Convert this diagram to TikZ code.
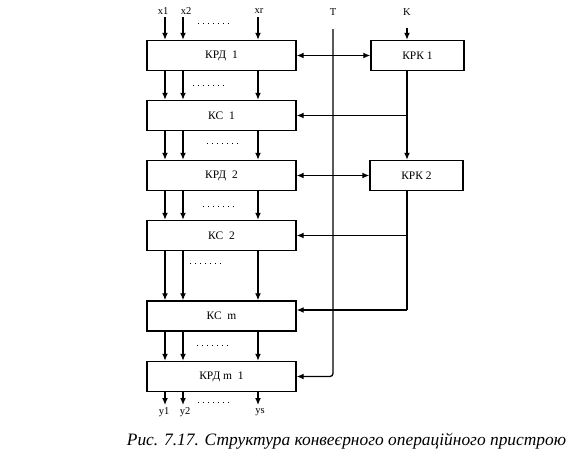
\documentclass[tikz,border=0pt]{standalone}
\usepackage{fontspec}
\setmainfont{Liberation Serif}
\usetikzlibrary{arrows.meta}
\begin{document}
\begin{tikzpicture}[x=1pt,y=-1pt,
  box/.style={draw,line width=1.4pt,minimum width=149pt,minimum height=30pt,inner sep=0pt,font=\fontsize{11.5}{12}\selectfont},
  rbox/.style={draw,line width=1.4pt,minimum width=93pt,minimum height=30pt,inner sep=0pt,font=\fontsize{11.5}{12}\selectfont},
  arr/.style={line width=1.3pt,-{Latex[length=7pt,width=6pt]}},
  darr/.style={line width=1.3pt,{Latex[length=7pt,width=6pt]}-{Latex[length=7pt,width=6pt]}},
  ln/.style={line width=1.3pt},
  dots/.style={line width=0.9pt,dash pattern=on 1pt off 4pt},
  lab/.style={font=\fontsize{10.5}{11}\selectfont,inner sep=0pt}]
\useasboundingbox (0,0) rectangle (567,458);
% boxes
\node[box] (krd1) at (221.5,55.5) {КРД\ \ 1};
\node[box] (ks1) at (221.5,115.5) {КС\ \ 1};
\node[box] (krd2) at (221.5,175.5) {КРД\ \ 2};
\node[box] (ks2) at (221.5,235.5) {КС\ \ 2};
\node[box] (ksm) at (221.5,316) {КС\ \ m};
\node[box] (krdm) at (221.5,376.5) {КРД\ m\ \ 1};
\node[rbox] (krk1) at (417.5,55.5) {КРК 1};
\node[rbox] (krk2) at (416.5,175.5) {КРК 2};
% column coordinates
\coordinate (c1) at (165,0);
\coordinate (c2) at (183,0);
\coordinate (c3) at (258,0);
\coordinate (tx) at (333,0);
\coordinate (kx) at (407,0);
% top labels
\node[lab] (x1) at (163,11) {x1};
\node[lab] (x2) at (186,11) {x2};
\node[lab] (xr) at (259,11) {xr};
\node[lab] (tl) at (333,12) {T};
\node[lab] (kl) at (407,12) {K};
\coordinate (i1) at (165,17);
\coordinate (i2) at (183,17);
\coordinate (i3) at (258,17);
\draw[arr] (i1) -- (c1 |- krd1.north);
\draw[arr] (i2) -- (c2 |- krd1.north);
\draw[arr] (i3) -- (c3 |- krd1.north);
\draw[dots] (198,23) -- (231,23);
% inter-box arrows
\foreach \a/\b/\dy/\dxa in {krd1/ks1/85/193,ks1/krd2/143/207,krd2/ks2/206/203,ks2/ksm/263/190,ksm/krdm/345/197}{
  \draw[arr] (c1 |- \a.south) -- (c1 |- \b.north);
  \draw[arr] (c2 |- \a.south) -- (c2 |- \b.north);
  \draw[arr] (c3 |- \a.south) -- (c3 |- \b.north);
  \draw[dots] (\dxa,\dy) -- ({\dxa+34},\dy);
}
% outputs
\coordinate (o1) at (165,405);
\coordinate (o2) at (183,405);
\coordinate (o3) at (258,405);
\draw[arr] (c1 |- krdm.south) -- (o1);
\draw[arr] (c2 |- krdm.south) -- (o2);
\draw[arr] (c3 |- krdm.south) -- (o3);
\draw[dots] (198,402) -- (231,402);
\node[lab] (y1) at (164,412) {y1};
\node[lab] (y2) at (185,412) {y2};
\node[lab] (ys) at (260,412) {ys};
% T line
\coordinate (ttop) at (333,29);
\draw[ln,rounded corners=3pt,-{Latex[length=7pt,width=6pt]}] (ttop) -- (tx |- krdm.east) -- (krdm.east);
% K line
\coordinate (ktop) at (407,28);
\draw[arr] (ktop) -- (krk1.north -| kx);
\draw[darr] (krd1.east) -- (krk1.west);
\draw[darr] (krd2.east) -- (krk2.west);
\draw[arr] (krk1.south -| kx) -- (krk2.north -| kx);
\draw[arr] (kx |- ks1.east) -- (ks1.east);
\coordinate (kc) at (407,310);
\draw[ln] (krk2.south -| kx) -- (kc);
\draw[arr] (kc) -- (ksm.east |- kc);
\draw[arr] (kx |- ks2.east) -- (ks2.east);
% caption
\node[inner sep=0pt,font=\fontsize{17.4}{19}\selectfont\itshape] (cap) at (346.5,441) {Рис. 7.17. Структура конвеєрного операційного пристрою};
\end{tikzpicture}
\end{document}
